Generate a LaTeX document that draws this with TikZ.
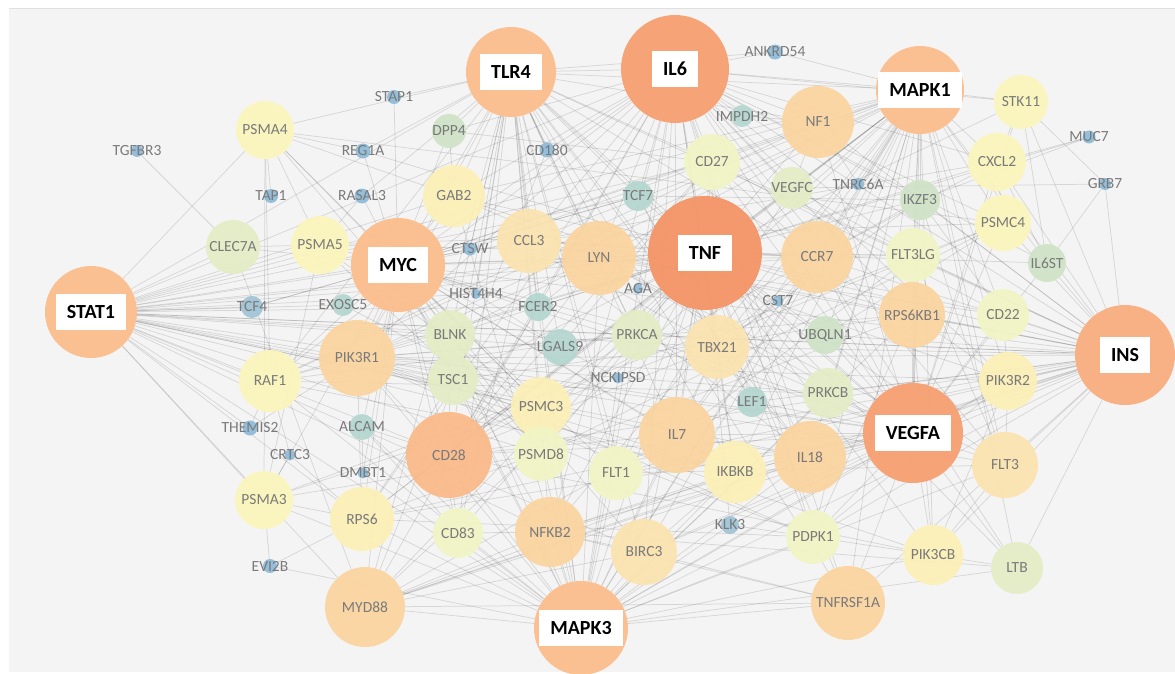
\documentclass[tikz,border=0pt]{standalone}
\usepackage{fontspec}
\setmainfont{Carlito}
\pgfdeclarelayer{bg}
\pgfdeclarelayer{edges}
\pgfsetlayers{bg,edges,main}

% node fill colours, from deep orange (hubs) to blue (leaves)
\definecolor{hubA}{HTML}{F59566}
\definecolor{hubB}{HTML}{F7A071}
\definecolor{hubC}{HTML}{F9AE80}
\definecolor{hubD}{HTML}{FBBE8C}
\definecolor{cOr}{HTML}{FAB988}
\definecolor{cO3}{HTML}{FBD49F}
\definecolor{cY0}{HTML}{FCE3AE}
\definecolor{cY1}{HTML}{FCEFB6}
\definecolor{cY2}{HTML}{FBF6BA}
\definecolor{cYG}{HTML}{F1F5C4}
\definecolor{cG1}{HTML}{E3EDC5}
\definecolor{cG2}{HTML}{CFE3C6}
\definecolor{cT}{HTML}{B3D6CF}
\definecolor{cK}{HTML}{9FC4D6}
\definecolor{cB}{HTML}{8FBCD9}
\definecolor{txtgrey}{HTML}{7A7A7A}
\definecolor{panel}{HTML}{F4F4F4}

\tikzset{
  genenode/.style={circle, inner sep=0pt, fill opacity=0.92},
  genetext/.style={text=txtgrey, font=\fontsize{15.5}{16}\selectfont, inner sep=0pt},
  dotnode/.style={circle, inner sep=0pt, fill=cB, fill opacity=0.95},
  hubnode/.style={circle, inner sep=0pt, fill opacity=0.95},
  hublabel/.style={fill=white, text=black, inner xsep=11pt, inner ysep=0pt,
    minimum height=36pt, font=\bfseries\fontsize{20}{21}\selectfont},
  edge/.style={draw=black, opacity=0.12, line width=0.75pt}
}

% \gn{name}{x}{y}{diameter}{colour}: gene circle with its name over it
\newcommand\gn[5]{\node[genenode, fill=#5, minimum size=#4pt,
  label={[genetext]center:#1}] (#1) at (#2,#3) {};}
% \dt{name}{x}{y}{diameter}: small blue node with its name over it
\newcommand\dt[4]{\node[dotnode, minimum size=#4pt,
  label={[genetext]center:#1}] (#1) at (#2,#3) {};}
% \hb{name}{x}{y}{diameter}{colour}: hub gene with a white name box
\newcommand\hb[5]{\node[hubnode, fill=#5, minimum size=#4pt,
  label={[hublabel]center:#1}] (#1) at (#2,#3) {};}

\begin{document}
\begin{tikzpicture}[x=1pt, y=-1pt]
\useasboundingbox (0,0) rectangle (1175,674);

\begin{pgfonlayer}{bg}
  \fill[white] (0,0) rectangle (1175,674);
  \fill[panel] (9,8) rectangle (1175,672);
  \draw[black!12, line width=0.6pt] (9,8) -- (1175,8);
\end{pgfonlayer}

% hubs
\hb{STAT1}{91}{312}{92}{hubD}
\hb{TLR4}{511}{72}{90}{hubD}
\hb{IL6}{675}{69}{108}{hubB}
\hb{MAPK1}{920}{90}{88}{hubD}
\hb{MYC}{398}{265}{94}{hubD}
\hb{TNF}{705}{253}{114}{hubA}
\hb{INS}{1125}{355}{100}{hubC}
\hb{VEGFA}{913}{433}{100}{hubB}
\hb{MAPK3}{581}{628}{94}{hubD}

% medium genes
\gn{PSMA4}{265}{130}{58}{cY2}
\gn{CLEC7A}{233}{247}{54}{cG1}
\gn{PSMA5}{320}{245}{58}{cY2}
\gn{GAB2}{454}{196}{62}{cY1}
\gn{DPP4}{449}{131}{34}{cG2}
\gn{CCL3}{529}{241}{64}{cY0}
\gn{LYN}{599}{258}{74}{cO3}
\gn{CD27}{712}{162}{56}{cYG}
\gn{NF1}{818}{122}{72}{cO3}
\gn{VEGFC}{792}{188}{42}{cG1}
\gn{IKZF3}{920}{200}{40}{cG2}
\gn{STK11}{1021}{102}{54}{cY2}
\gn{CXCL2}{997}{162}{58}{cY2}
\gn{PSMC4}{1003}{223}{56}{cY2}
\gn{IL6ST}{1047}{263}{38}{cG2}
\gn{CCR7}{817}{257}{72}{cO3}
\gn{FLT3LG}{913}{255}{54}{cYG}
\gn{RPS6KB1}{912}{315}{66}{cO3}
\gn{CD22}{1003}{315}{52}{cYG}
\gn{UBQLN1}{825}{335}{38}{cG2}
\gn{PIK3R2}{1008}{381}{58}{cY1}
\gn{FLT3}{1005}{465}{66}{cY0}
\gn{LTB}{1017}{568}{52}{cG1}
\gn{PIK3CB}{933}{555}{60}{cY1}
\gn{TNFRSF1A}{848}{603}{74}{cO3}
\gn{PDPK1}{813}{537}{54}{cYG}
\gn{IL18}{810}{457}{72}{cO3}
\gn{PRKCB}{828}{393}{50}{cG1}
\gn{TBX21}{717}{347}{64}{cY0}
\gn{PRKCA}{637}{335}{50}{cG1}
\gn{LGALS9}{560}{347}{36}{cT}
\gn{BLNK}{450}{335}{50}{cG1}
\gn{TSC1}{453}{380}{50}{cG1}
\gn{PIK3R1}{357}{358}{76}{cO3}
\gn{RAF1}{270}{381}{62}{cY2}
\gn{PSMA3}{264}{500}{58}{cY2}
\gn{RPS6}{362}{519}{64}{cY1}
\gn{CD28}{449}{455}{86}{cOr}
\gn{PSMC3}{541}{407}{60}{cY1}
\gn{PSMD8}{541}{454}{54}{cYG}
\gn{IL7}{677}{435}{76}{cO3}
\gn{FLT1}{616}{473}{54}{cYG}
\gn{IKBKB}{735}{472}{62}{cY1}
\gn{NFKB2}{550}{532}{70}{cO3}
\gn{BIRC3}{644}{552}{66}{cY0}
\gn{CD83}{458}{533}{50}{cYG}
\gn{MYD88}{365}{607}{80}{cO3}
\gn{TCF7}{638}{196}{30}{cT}
\gn{FCER2}{538}{307}{28}{cT}
\gn{LEF1}{752}{402}{30}{cT}
\gn{IMPDH2}{742}{116}{22}{cT}
\gn{TCF4}{252}{307}{22}{cK}
\gn{EXOSC5}{343}{305}{22}{cT}
\gn{ALCAM}{362}{427}{26}{cT}
\gn{KLK3}{730}{525}{18}{cK}

% leaf genes
\dt{STAP1}{394}{97}{14}
\dt{REG1A}{363}{151}{15}
\dt{TGFBR3}{137}{151}{12}
\dt{TAP1}{271}{196}{14}
\dt{RASAL3}{362}{196}{15}
\dt{CD180}{547}{150}{15}
\dt{ANKRD54}{775}{52}{15}
\dt{TNRC6A}{858}{184}{12}
\dt{MUC7}{1089}{137}{13}
\dt{GRB7}{1105}{184}{12}
\dt{CTSW}{470}{249}{13}
\dt{HIST4H4}{476}{294}{10}
\dt{AGA}{638}{289}{10}
\dt{CST7}{778}{301}{11}
\dt{NCKIPSD}{618}{378}{11}
\dt{THEMIS2}{250}{428}{15}
\dt{CRTC3}{290}{455}{11}
\dt{DMBT1}{363}{473}{11}
\dt{EVI2B}{270}{566}{14}

\begin{pgfonlayer}{edges}
\foreach \b in {MYC,PSMA4,PSMA5,CLEC7A,TCF4,EXOSC5,PIK3R1,RAF1,PSMA3,MYD88,CD28,
  TNF,IL6,TLR4,LYN,CCL3,GAB2,BLNK,TSC1,PSMC3,IL7,TBX21,PRKCA,INS,VEGFA,CCR7,MAPK3,
  RPS6,IL18,NFKB2,FCER2,LGALS9,HIST4H4,MAPK1,TCF7,CD27,PSMD8,IKBKB,BIRC3,THEMIS2}
  \draw[edge] (STAT1) -- (\b);
\foreach \b in {IL6,TLR4,MYC,MAPK1,MAPK3,VEGFA,INS,LYN,CCL3,CD27,NF1,CCR7,TBX21,IL7,
  IL18,CD28,PIK3R1,MYD88,NFKB2,BIRC3,IKBKB,TNFRSF1A,RPS6KB1,FLT3LG,PRKCA,PRKCB,LEF1,
  TCF7,CXCL2,LTB,FLT1,GAB2,BLNK,RAF1,PSMC3,PSMD8,CD83,FLT3,PDPK1,REG1A,CST7,AGA,FCER2,
  IKZF3,VEGFC,CD22,IL6ST,STK11,MUC7,RPS6,PIK3CB,TSC1,PSMA5,KLK3}
  \draw[edge] (TNF) -- (\b);
\foreach \b in {TLR4,MYC,MAPK1,MAPK3,VEGFA,INS,NF1,CD27,CCR7,IL7,IL18,CD28,PIK3R1,
  MYD88,NFKB2,TNFRSF1A,RPS6KB1,FLT3LG,PRKCA,TBX21,LYN,CCL3,GAB2,IMPDH2,ANKRD54,IL6ST,
  CXCL2,STK11,FLT3,IKBKB,PSMC4,RAF1,PDPK1,PIK3R2,TCF7,CD180,DPP4,BIRC3,VEGFC,IKZF3,RPS6}
  \draw[edge] (IL6) -- (\b);
\foreach \b in {MYC,MAPK1,MAPK3,VEGFA,INS,CD180,MYD88,DPP4,GAB2,CCL3,LYN,CD28,PIK3R1,
  IL7,IL18,NFKB2,BIRC3,IKBKB,TNFRSF1A,CCR7,NF1,CD27,TBX21,PRKCA,BLNK,TSC1,PSMC3,STAP1,
  REG1A,RASAL3,CTSW,FCER2,HIST4H4,TCF7,RAF1,CD83,FLT1,LGALS9,PSMA4,ANKRD54}
  \draw[edge] (TLR4) -- (\b);
\foreach \b in {MAPK3,MYC,VEGFA,INS,NF1,STK11,CXCL2,PSMC4,IKZF3,FLT3LG,RPS6KB1,CCR7,
  CD22,PIK3R2,FLT3,PRKCB,IL18,PDPK1,PIK3CB,TNFRSF1A,IKBKB,IL7,TBX21,LYN,CCL3,CD27,VEGFC,
  TNRC6A,ANKRD54,RAF1,PIK3R1,CD28,PRKCA,LEF1,UBQLN1,BIRC3,RPS6,GAB2,IL6ST,LTB,MYD88,NFKB2}
  \draw[edge] (MAPK1) -- (\b);
\foreach \b in {MAPK3,VEGFA,INS,PSMA4,PSMA5,GAB2,CCL3,LYN,PIK3R1,RAF1,CD28,BLNK,TSC1,
  PSMC3,PSMD8,RPS6,MYD88,NFKB2,IL7,TBX21,EXOSC5,TCF4,CLEC7A,REG1A,RASAL3,STAP1,CTSW,
  HIST4H4,ALCAM,IKBKB,BIRC3,CCR7,NF1,TCF7,DPP4,FCER2,LGALS9,PRKCA,CD83,FLT1,PSMA3,DMBT1}
  \draw[edge] (MYC) -- (\b);
\foreach \b in {MAPK3,INS,FLT3,FLT1,PIK3R2,PIK3CB,PDPK1,IL18,PRKCB,TNFRSF1A,IKBKB,IL7,
  TBX21,RPS6KB1,FLT3LG,CD22,PSMC4,CXCL2,LTB,UBQLN1,NF1,CCR7,LYN,CD28,PIK3R1,PRKCA,BIRC3,
  NFKB2,RPS6,KLK3,LEF1,IL6ST,MYD88,IKZF3,STK11,CD27}
  \draw[edge] (VEGFA) -- (\b);
\foreach \b in {MAPK3,PIK3R2,FLT3,CD22,RPS6KB1,PSMC4,IL6ST,PIK3CB,LTB,STK11,CXCL2,
  FLT3LG,IKZF3,CCR7,IL18,PRKCB,UBQLN1,TBX21,IL7,IKBKB,PDPK1,TNFRSF1A,NF1,LYN,CD28,PIK3R1,
  RPS6,PRKCA,LEF1,CD27,FLT1,NFKB2,BIRC3,MYD88,GRB7,CCL3}
  \draw[edge] (INS) -- (\b);
\foreach \b in {CD28,NFKB2,BIRC3,CD83,PSMD8,PSMC3,FLT1,IL7,MYD88,RPS6,PSMA3,PIK3R1,
  IKBKB,IL18,TNFRSF1A,PIK3CB,PDPK1,TBX21,LYN,RAF1,PRKCA,KLK3,TSC1,BLNK,FLT3,CCL3,PRKCB,
  LTB,PIK3R2,GAB2,CCR7,RPS6KB1,EVI2B,DMBT1,ALCAM,NCKIPSD}
  \draw[edge] (MAPK3) -- (\b);
\foreach \a/\b in {PSMA4/PSMA5,PSMA4/PSMA3,PSMA4/PSMC3,PSMA4/PSMD8,PSMA4/PSMC4,
  PSMA4/RAF1,PSMA4/TAP1,PSMA4/REG1A,PSMA4/GAB2,PSMA5/PSMA3,PSMA5/PSMC3,PSMA5/PSMD8,
  PSMA5/PSMC4,PSMA5/CLEC7A,PSMA3/PSMC3,PSMA3/PSMD8,PSMA3/PSMC4,PSMA3/RPS6,PSMA3/EVI2B,
  PSMA3/CRTC3,PSMC3/PSMD8,PSMC3/PSMC4,PSMD8/PSMC4,
  PIK3R1/PIK3R2,PIK3R1/PIK3CB,PIK3R1/PDPK1,PIK3R1/RAF1,PIK3R1/RPS6,PIK3R1/RPS6KB1,
  PIK3R1/GAB2,PIK3R1/LYN,PIK3R1/CD28,PIK3R1/BLNK,PIK3R1/TSC1,PIK3R1/FLT3,PIK3R1/PRKCA,
  PIK3R1/PRKCB,PIK3R1/IKBKB,PIK3R1/FLT1,PIK3R1/THEMIS2,
  PIK3R2/PIK3CB,PIK3R2/FLT3,PIK3R2/PDPK1,PIK3R2/RPS6KB1,PIK3R2/CD22,PIK3R2/GAB2,
  PIK3CB/PDPK1,PIK3CB/FLT3,PIK3CB/LTB,PIK3CB/RPS6KB1,
  RPS6/RPS6KB1,RPS6/PDPK1,RPS6/TSC1,RPS6/CRTC3,RPS6/EVI2B,RPS6KB1/PDPK1,RPS6KB1/TSC1,
  RPS6KB1/FLT3LG,RAF1/PRKCA,RAF1/PRKCB,RAF1/IKBKB,RAF1/CRTC3,RAF1/THEMIS2,
  CD28/CD83,CD28/PIK3CB,CD28/LYN,CD28/CCR7,CD28/IL7,CD28/TBX21,CD28/CD27,CD28/ALCAM,
  CD28/FCER2,CD28/PRKCA,CD28/BLNK,LYN/BLNK,LYN/FCER2,LYN/GAB2,LYN/PRKCA,LYN/PRKCB,
  LYN/CD22,LYN/FLT3,LYN/CCL3,IL7/IL18,IL7/CCR7,IL7/TBX21,IL7/CD27,IL7/LEF1,IL7/FLT3LG,
  IL7/IKBKB,NFKB2/IKBKB,NFKB2/BIRC3,NFKB2/TNFRSF1A,NFKB2/LTB,NFKB2/CD83,NFKB2/MYD88,
  MYD88/IKBKB,MYD88/IL18,MYD88/TNFRSF1A,MYD88/CLEC7A,MYD88/CD180,MYD88/BIRC3,MYD88/IL7,
  BIRC3/IKBKB,BIRC3/TNFRSF1A,CCR7/CCL3,CCR7/CD27,CCR7/TBX21,CCR7/CXCL2,CCR7/LTB,
  CCR7/IKZF3,CCR7/FLT3LG,CCL3/CXCL2,CCL3/CD83,CCL3/TBX21,CCL3/IL18,TBX21/LEF1,TBX21/TCF7,
  TBX21/IKZF3,TBX21/CD27,TBX21/IL18,TBX21/CST7,FLT3/FLT3LG,FLT3/FLT1,FLT3/IKZF3,
  CXCL2/STK11,CXCL2/MUC7,CXCL2/PSMC4,CXCL2/IL6ST,STK11/IL6ST,IL6ST/GRB7,NF1/RAF1,
  NF1/VEGFC,NF1/TNRC6A,VEGFC/FLT1,VEGFC/FLT3LG,VEGFC/GRB7,TCF7/LEF1,TCF7/TCF4,TCF7/IKZF3,
  CD22/CD27,CD22/IKZF3,LGALS9/CD27,LGALS9/NCKIPSD,LGALS9/HIST4H4,TSC1/PDPK1,
  UBQLN1/CST7,UBQLN1/PSMC4,DPP4/CD27,DPP4/GAB2,ALCAM/DMBT1,ALCAM/CD83,KLK3/PDPK1,
  TGFBR3/CLEC7A,RASAL3/PSMA5,CTSW/CD27,EXOSC5/PSMC3,IMPDH2/NF1,MUC7/IKZF3,STK11/GRB7}
  \draw[edge] (\a) -- (\b);
\end{pgfonlayer}
\end{tikzpicture}
\end{document}
